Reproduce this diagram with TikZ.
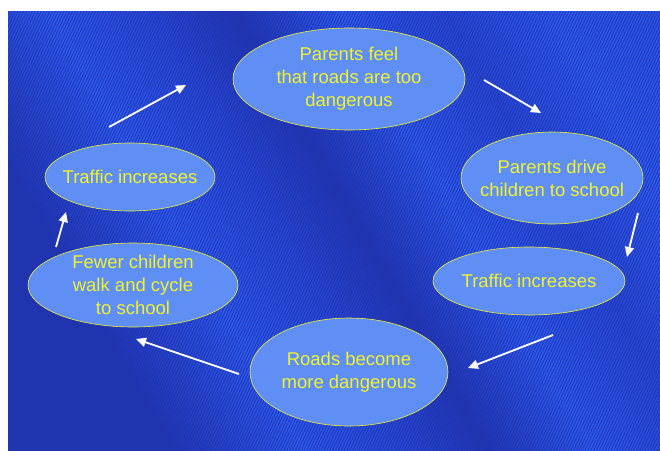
\documentclass[tikz,border=0pt]{standalone}
\usepackage{fontspec}
\setmainfont{Liberation Sans}
\usetikzlibrary{arrows.meta,shapes.geometric,patterns.meta}
\definecolor{bgdark}{HTML}{2034B0}
\definecolor{bgmid}{HTML}{2748D8}
\definecolor{bglight}{HTML}{2E5EF6}
\definecolor{ellfill}{HTML}{5F8FF5}
\definecolor{txtyel}{HTML}{F2F22A}
\pgfdeclareverticalshading{bgshade}{100bp}{color(0bp)=(bgdark); color(28bp)=(bgdark); color(38bp)=(bglight); color(46bp)=(bgmid); color(52bp)=(bgdark); color(60bp)=(bglight); color(68bp)=(bgmid); color(76bp)=(bglight); color(100bp)=(bgmid)}
\tikzset{
  cyc/.style={ellipse, draw=txtyel, line width=0.6pt, fill=ellfill, inner sep=0pt},
  cyctext/.style={text=txtyel, align=center, font=\fontsize{18.5}{23}\selectfont},
  arr/.style={draw=white, line width=1.8pt, -{Triangle[length=10pt,width=9pt]}}
}
\begin{document}
\begin{tikzpicture}[x=1pt,y=-1pt]
\useasboundingbox (0,0) rectangle (660,450);
\fill[white] (0,0) rectangle (660,450);
\shade[shading=bgshade, shading angle=-60] (8,11) rectangle (660,450);
\fill[pattern={Lines[angle=65,distance=2.6pt,line width=0.9pt]}, pattern color=bgdark, fill opacity=0.3] (8,11) rectangle (660,450);

\node[cyc, minimum width=232pt, minimum height=102pt, label={[cyctext]center:Parents feel\\that roads are too\\dangerous}] (top) at (349,79) {};
\node[cyc, minimum width=182pt, minimum height=92pt, label={[cyctext]center:Parents drive\\children to school}] (drive) at (552,178) {};
\node[cyc, minimum width=192pt, minimum height=68pt, label={[cyctext]center:Traffic increases}] (trafR) at (529,281) {};
\node[cyc, minimum width=198pt, minimum height=108pt, label={[cyctext]center:Roads become\\more dangerous}] (roads) at (349,372) {};
\node[cyc, minimum width=210pt, minimum height=84pt, label={[cyctext]center:Fewer children\\walk and cycle\\to school}] (fewer) at (133,285) {};
\node[cyc, minimum width=170pt, minimum height=68pt, label={[cyctext]center:Traffic increases}] (trafL) at (130,177) {};

\coordinate (a1s) at (484,80);  \coordinate (a1e) at (541,113);
\coordinate (a2s) at (638,213); \coordinate (a2e) at (627,257);
\coordinate (a3s) at (553,335); \coordinate (a3e) at (468,368);
\coordinate (a4s) at (239,374); \coordinate (a4e) at (136,339);
\coordinate (a5s) at (56,247);  \coordinate (a5e) at (66,212);
\coordinate (a6s) at (109,127); \coordinate (a6e) at (186,85);

\draw[arr] (a1s) -- (a1e);
\draw[arr] (a2s) -- (a2e);
\draw[arr] (a3s) -- (a3e);
\draw[arr] (a4s) -- (a4e);
\draw[arr] (a5s) -- (a5e);
\draw[arr] (a6s) -- (a6e);
\end{tikzpicture}
\end{document}
